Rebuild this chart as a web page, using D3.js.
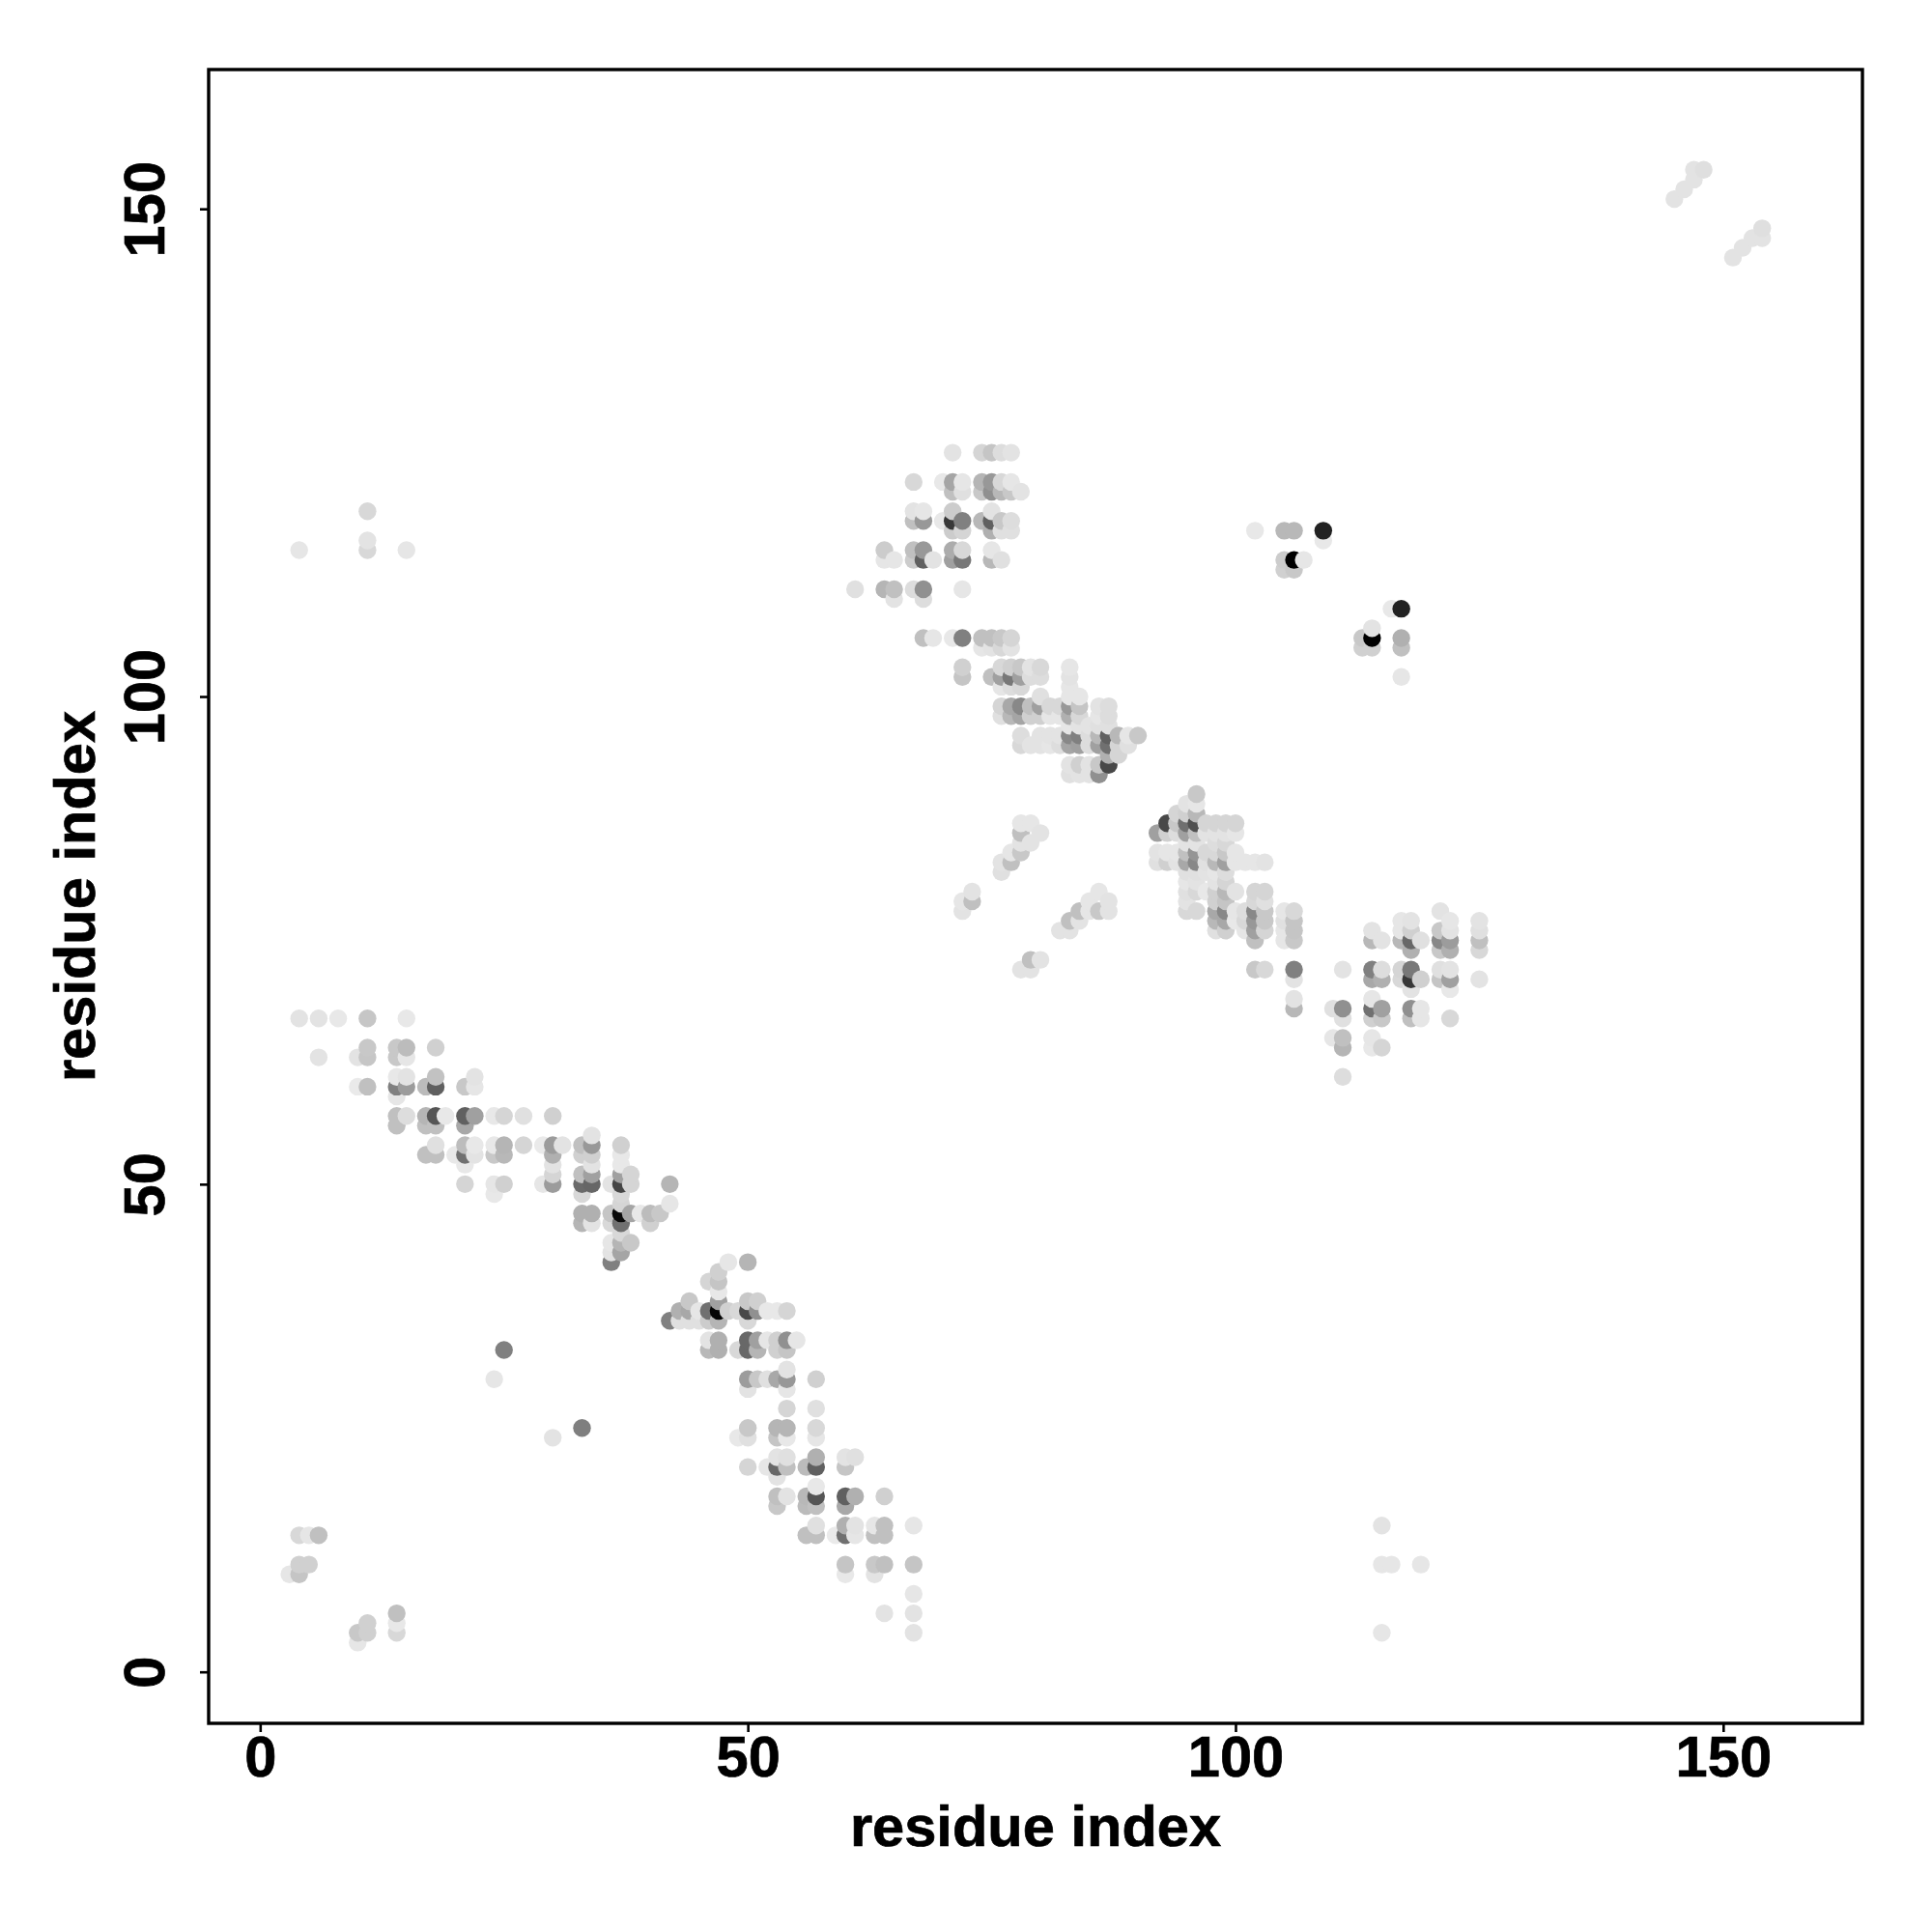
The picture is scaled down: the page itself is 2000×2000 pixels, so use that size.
<!DOCTYPE html>
<html><head><meta charset="utf-8">
<script src="https://cdn.jsdelivr.net/npm/d3@7/dist/d3.min.js"></script>
<style>html,body{margin:0;padding:0;background:#fff}</style></head>
<body><svg id="c" width="2000" height="2000"></svg>
<script>
// each row: [residue j, [residue i, tone], [residue i, tone], ...]; tone 0 = darkest, 255 = white
const bottomCorner = [
 [14,[4,0xd8],[5,0xe6],[6,0xc0]],
 [11,[4,0xd0],[5,0xd0]],
 [10,[3,0xe6],[4,0xc5]],
 [6,[14,0xc0]],[5,[11,0xd0],[14,0xe8]],[4,[10,0xc8],[11,0xd0],[14,0xd8]],[3,[10,0xe6]]
];
const lowerBandA = [
 [67,[4,0xe3],[6,0xe3],[8,0xe8],[11,0xc6],[15,0xe8]],
 [64,[11,0xc8],[14,0xc8],[15,0xbc],[18,0xd0]],
 [63,[6,0xe3],[10,0xe3],[11,0xc6],[14,0xc8],[15,0xe6]],
 [61,[14,0xe8],[15,0xe3],[18,0xc2],[22,0xe3]],
 [60,[10,0xea],[11,0xc0],[14,0x80],[15,0x9c],[17,0xbb],[18,0x60],[21,0xc8],[22,0xe6]],
 [59,[14,0xe6]],
 [57,[14,0xc0],[15,0xdd],[17,0xb5],[18,0x55],[19,0xe8],[21,0x60],[22,0xa0],[24,0xe8],[25,0xd5],[27,0xe0],[30,0xd0]],
 [56,[14,0xc0],[17,0xc0],[18,0xc0],[21,0xa8]],
 [55,[34,0xe3]],
 [54,[18,0xe0],[21,0xbc],[22,0xe8],[24,0xe8],[25,0xb5],[27,0xd5],[29,0xea],[30,0x9c],[31,0xe3],[33,0xc0],[34,0x98],[37,0xd0]],
 [53,[17,0xc0],[18,0xc0],[20,0xe8],[21,0x70],[22,0xe3],[24,0xc8],[25,0xb8],[30,0xb0],[33,0xd0],[34,0xd0],[37,0xe8]],
 [52,[21,0xe8],[30,0xe3],[34,0xe3],[37,0xe8]],
 [51,[30,0xd5],[33,0xc0],[34,0xa0],[37,0xa0],[38,0xd5]],
 [50,[21,0xd5],[24,0xe6],[25,0xd0],[29,0xe6],[30,0x9c],[33,0x6a],[34,0x66],[36,0xe3],[37,0x45],[38,0xd5],[42,0xb5]],
 [49,[24,0xe8],[33,0xd8],[37,0xd8]],
 [48,[37,0xd5],[42,0xe6]],
 [47,[33,0xb0],[34,0xb0],[36,0xc5],[37,0x0a],[38,0xa5],[39,0xe8],[40,0xbc],[41,0xc8]],
 [46,[33,0xb5],[34,0xe3],[36,0xd8],[37,0x70],[40,0xd0]],
 [45,[37,0xd8]],
 [44,[36,0xe6],[37,0xb5],[38,0xc8]],
 [43,[36,0xe3],[37,0xa5]],
 [42,[36,0x80]]
];
const lowerBandB = [
 [42,[48,0xe6],[50,0xb5]],
 [41,[47,0xd0]],
 [40,[46,0xd5],[47,0xc5]],
 [39,[47,0xe8]],
 [38,[44,0xc8],[47,0xa0],[50,0xc8],[51,0xd0]],
 [37,[43,0xb0],[44,0xa8],[45,0xe6],[46,0x70],[47,0x05],[48,0xd0],[49,0xd8],[50,0x48],[51,0x90],[52,0xe8],[53,0xe8],[54,0xd5]],
 [36,[42,0x80],[43,0xe0],[44,0xe0],[45,0xe0],[46,0xcc],[47,0xb5],[50,0xd8]],
 [34,[46,0xe3],[47,0xb0],[50,0x68],[51,0xa0],[52,0xe6],[53,0xd0],[54,0x90],[55,0xe6]],
 [33,[46,0xb8],[47,0xb0],[49,0xd8],[50,0x68],[51,0xb5],[53,0xd0],[54,0xc5]],
 [31,[54,0xe3]],
 [30,[50,0x9c],[51,0xc8],[52,0xe0],[53,0xa8],[54,0x98],[57,0xd0]],
 [29,[50,0xe3],[54,0xe6]],
 [27,[54,0xd5],[57,0xe0]],
 [25,[50,0xc8],[53,0xb5],[54,0xb5],[57,0xd8]],
 [24,[49,0xe8],[50,0xe0],[53,0xc5],[54,0xe8],[57,0xe6]],
 [22,[53,0xe3],[54,0xe0],[57,0xb0],[60,0xe3],[61,0xe0]],
 [21,[50,0xd5],[52,0xe6],[53,0x68],[54,0xc0],[56,0xbb],[57,0x60],[60,0xc5]],
 [20,[53,0xe3]],
 [19,[57,0xe8]],
 [18,[53,0xc0],[54,0xe3],[56,0xb8],[57,0x55],[60,0x60],[61,0xb0],[64,0xd0]],
 [17,[53,0xc8],[56,0xbb],[57,0xc0],[60,0xa8]],
 [15,[57,0xe0],[60,0xb0],[61,0xe3],[63,0xe6],[64,0xc0],[67,0xe6]],
 [14,[56,0xc0],[57,0xc0],[59,0xea],[60,0x70],[61,0xe6],[63,0xc0],[64,0xc0]],
 [11,[60,0xc5],[63,0xc8],[64,0xc0],[67,0xc5]],
 [10,[60,0xe8],[63,0xe3]],
 [8,[67,0xe6]],
 [6,[64,0xe3],[67,0xe3]],
 [4,[67,0xe3]]
];
const isolated = [
 [33,[25,0x80]],[30,[24,0xe6]],[25,[33,0x7f]],[24,[30,0xe3]],
 [15,[115,0xe3]],[11,[115,0xe6],[116,0xe6],[119,0xe6]],[4,[115,0xe6]],
 [119,[11,0xd8]],[116,[11,0xe3]],[115,[4,0xe6],[11,0xd8],[15,0xe6]],
 [154,[147,0xe3],[148,0xdf]],[153,[147,0xe3]],[152,[146,0xe3]],[151,[145,0xe3]],
 [148,[154,0xdf]],[147,[153,0xe3],[154,0xe3]],[146,[152,0xe3]],[145,[151,0xe3]]
];
const upperBlock = [
 [125,[71,0xe3],[74,0xd5],[75,0xc5],[76,0xdd],[77,0xe3]],
 [122,[67,0xd8],[70,0xe8],[71,0xa5],[72,0xe6],[74,0xb5],[75,0x98],[76,0xd8],[77,0xe6]],
 [121,[71,0xc0],[72,0xe0],[74,0xc8],[75,0x90],[76,0xb8],[77,0xc8],[78,0xe3]],
 [119,[67,0xe3],[68,0xe6],[71,0xcc],[75,0xe3]],
 [118,[67,0xc0],[68,0x98],[70,0xe8],[71,0x38],[72,0x80],[74,0xb8],[75,0x60],[76,0xc8],[77,0xdd]],
 [117,[71,0xcc],[72,0xd5],[75,0xb0],[76,0xe0],[77,0xe0]],
 [115,[64,0xcc],[67,0xc0],[68,0x98],[71,0xac],[72,0xd8],[75,0xe6]],
 [114,[64,0xe6],[65,0xe6],[67,0xcc],[68,0x60],[69,0xe3],[71,0xa0],[72,0x78],[75,0xb8],[76,0xe0]],
 [111,[61,0xe0],[64,0xb5],[65,0xc0],[67,0xdd],[68,0x90],[72,0xe6]],
 [110,[65,0xe3],[68,0xdd]],
 [106,[68,0xc0],[69,0xe6],[71,0xe8],[72,0x80],[74,0xc0],[75,0xc0],[76,0xc8],[77,0xd5]],
 [105,[74,0xe6],[75,0xe3],[76,0xd8],[77,0xe3]]
];
const upperBandA = [
 [103,[72,0xd0],[76,0xd8],[77,0xd0],[78,0xc8],[79,0xe3],[80,0xd8],[83,0xe6]],
 [102,[72,0xc5],[75,0xc0],[76,0xa0],[77,0x78],[78,0xa0],[79,0xdd],[80,0xdd],[83,0xe3]],
 [101,[76,0xe6],[77,0xdd],[78,0xd8],[83,0xe6]],
 [100,[80,0xe0],[83,0xe6],[84,0xe6]],
 [99,[76,0xd5],[77,0xa8],[78,0x88],[79,0xc0],[80,0xa0],[81,0xd8],[82,0xd8],[83,0x98],[84,0xc5],[86,0xe3],[87,0xdd]],
 [98,[76,0xe0],[77,0xb8],[78,0xa5],[79,0xd0],[80,0xd0],[81,0xe6],[82,0xe6],[83,0xb0],[84,0xd8],[86,0xe6],[87,0xdd]],
 [97,[83,0xe6],[84,0xe3],[85,0xe3],[86,0xe0],[87,0xe0]],
 [96,[78,0xdd],[80,0xe3],[81,0xe3],[82,0xe3],[83,0x88],[84,0x80],[85,0xdd],[86,0xb8],[87,0x60],[88,0xb8],[89,0xe6],[90,0xc8]],
 [95,[78,0xd8],[79,0xe3],[80,0xe3],[81,0xe6],[82,0xdd],[83,0xa5],[84,0xa0],[85,0xdd],[86,0xa0],[87,0x70],[88,0xd5],[89,0xe0]],
 [94,[87,0xb0],[88,0xd5]],
 [93,[83,0xe3],[84,0xd0],[85,0xe3],[86,0xc8],[87,0x48]],
 [92,[83,0xe0],[84,0xe3],[85,0xe3],[86,0x90]]
];
const upperBandB = [
 [90,[96,0xc8]],
 [89,[95,0xe3],[96,0xe6]],
 [88,[94,0xd5],[95,0xd0],[96,0xb8]],
 [87,[93,0x48],[94,0xc8],[95,0x70],[96,0x50],[97,0xd5],[98,0xd5],[99,0xd5],[100,0xd5]],
 [86,[92,0xa0],[93,0xd0],[94,0xdd],[95,0xa0],[96,0xc0],[97,0xe3],[98,0xe3],[99,0xe3],[100,0xe6]],
 [85,[95,0xe3],[96,0xe3],[98,0xdd],[99,0xd8]],
 [84,[92,0xe3],[93,0xe6],[94,0xe6],[95,0xc0],[96,0x95],[97,0xd8],[98,0xd8],[99,0xc8],[100,0xe6]],
 [83,[92,0xe0],[93,0xd0],[94,0xe3],[95,0xa8],[96,0x88],[97,0xe0],[98,0xb8],[99,0xa0],[100,0xe6],[101,0xe6],[102,0xe6],[103,0xe3]],
 [82,[95,0xe0],[96,0xe0],[97,0xe3],[98,0xe6],[99,0xdd]],
 [81,[95,0xe6],[96,0xe3],[98,0xe3],[99,0xd5]],
 [80,[95,0xe0],[96,0xd8],[97,0xe8],[98,0xd0],[99,0xb8],[100,0xe3],[102,0xd5],[103,0xd5]],
 [79,[95,0xe3],[98,0xd0],[99,0xc5],[102,0xd8],[103,0xe0]],
 [78,[95,0xd8],[96,0xd8],[98,0xa8],[99,0x88],[100,0xe6],[101,0xdd],[102,0x88],[103,0xc8],[105,0xe6],[106,0xd8]],
 [77,[98,0xb8],[99,0xa8],[100,0xe8],[101,0xd8],[102,0x98],[103,0xc8],[105,0xe0],[106,0xc5]],
 [76,[98,0xe0],[99,0xd0],[101,0xe6],[102,0xa0],[103,0xd5],[105,0xe6],[106,0xc5]],
 [75,[102,0xc0],[105,0xe6],[106,0xc8]],
 [72,[102,0xc8],[103,0xd8],[106,0x80]],
 [71,[106,0xe3]],
 [69,[106,0xe3]],
 [68,[106,0xb8]]
];
const middleStreaks = [
 [87,[78,0xe6],[79,0xe6]],[86,[78,0xc0],[80,0xe3]],[85,[78,0xe3],[79,0xe3]],[84,[77,0xe6],[78,0xc8]],[83,[76,0xe3],[77,0xc0]],[82,[76,0xe0]],
 [80,[73,0xe3],[86,0xe6]],[79,[72,0xe6],[73,0xc0],[85,0xe6],[87,0xe3]],[78,[72,0xe3],[84,0xc0],[85,0xe6],[86,0xc8],[87,0xe3]],
 [77,[83,0xc0],[84,0xe3]],[76,[82,0xe3],[83,0xe3]],
 [73,[79,0xc0],[80,0xe3]],[72,[78,0xe3],[79,0xe3]]
];
const rightBlock = [
 [78,[121,0xe3]],
 [77,[117,0xe6],[118,0xe3],[122,0xe6],[125,0xe3]],
 [76,[114,0xe3],[117,0xe6],[118,0xd0],[121,0xc8],[122,0xe3],[125,0xe0]],
 [75,[114,0xb8],[115,0xe3],[117,0xb8],[118,0x68],[119,0xe0],[121,0x88],[122,0x9c],[125,0xc0]],
 [74,[118,0xb0],[121,0xc8],[122,0xb0],[125,0xd8]],
 [72,[111,0xe3],[114,0x80],[115,0xdd],[117,0xd5],[118,0x78],[121,0xe0],[122,0xe3]],
 [71,[114,0xa8],[115,0xb0],[117,0xd8],[118,0x38],[119,0xd0],[121,0xc5],[122,0xa0],[125,0xe3]],
 [70,[118,0xe3],[122,0xe8]],
 [69,[114,0xe6]],
 [68,[110,0xe0],[111,0x90],[114,0x70],[115,0xa0],[118,0x90],[119,0xe6]],
 [67,[111,0xe0],[114,0xd0],[115,0xc8],[118,0xc0],[119,0xe6],[122,0xd8]],
 [65,[110,0xe6],[111,0xc0],[114,0xe6]],
 [64,[111,0xb5],[114,0xe8],[115,0xd5]],
 [61,[111,0xdd]]
];
const upperRight = [
 [117,[102,0xe8],[105,0xb8],[106,0xb8],[109,0x22]],
 [116,[109,0xe8]],
 [114,[105,0xcc],[106,0x00],[107,0xe6]],
 [113,[105,0xd0],[106,0xc8]],
 [109,[116,0xe8],[117,0x22]],
 [107,[114,0xe3]],
 [106,[113,0xc8],[114,0x00],[117,0xb0]],
 [105,[113,0xd0],[114,0xd0],[117,0xc0]],
 [102,[117,0xe6]]
];
const tickValues = [0, 50, 100, 150];
const axisLabel = "residue index";

const box = {left:216, right:1928, top:72, bottom:1784};
const domain = [-5.28, 164.28];
const x = d3.scaleLinear().domain(domain).range([box.left, box.right]);
const y = d3.scaleLinear().domain(domain).range([box.bottom, box.top]);
const tone = d3.scaleLinear().domain([0,255]).range(["#000","#fff"]);

const rows = [bottomCorner,lowerBandA,lowerBandB,isolated,upperBlock,upperBandA,upperBandB,middleStreaks,rightBlock,upperRight].flat();
const points = rows.flatMap(([j,...cells]) => cells.map(([i,t]) => ({i,j,t})));
points.sort((a,b) => d3.ascending(a.i,b.i) || d3.ascending(a.j,b.j));

const svg = d3.select("#c");
svg.append("rect").attr("width",2000).attr("height",2000).attr("fill","#fff");
svg.append("g").selectAll("circle").data(points).join("circle")
  .attr("cx",d=>x(d.i)).attr("cy",d=>y(d.j)).attr("r",9.2).attr("fill",d=>tone(d.t));

const font = "'Liberation Sans', Arial, sans-serif";
const fontSize = 59.6, weightStroke = 0.7;
const ax = d3.axisBottom(x).tickValues(tickValues).tickFormat(d3.format("d")).tickSize(9).tickPadding(0);
const ay = d3.axisLeft(y).tickValues(tickValues).tickFormat(d3.format("d")).tickSize(9).tickPadding(0);
const gx = svg.append("g").attr("transform",`translate(0,${box.bottom})`).call(ax);
const gy = svg.append("g").attr("transform",`translate(${box.left},0)`).call(ay);
[gx,gy].forEach(g=>{
  g.select(".domain").remove();
  g.selectAll("line").attr("stroke","#000").attr("stroke-width",2.6);
  g.selectAll("text").attr("font-family",font).attr("font-weight","bold").attr("font-size",fontSize)
    .attr("fill","#000").attr("stroke","#000").attr("stroke-width",weightStroke);
});
gx.selectAll("text").attr("dy",null).attr("y",55).attr("text-anchor","middle");
gy.selectAll("text").attr("dy",null).attr("x",null)
  .attr("transform","translate(-46,0) rotate(-90)").attr("text-anchor","middle").attr("y",0);

svg.append("rect").attr("x",box.left).attr("y",box.top).attr("width",box.right-box.left).attr("height",box.bottom-box.top)
  .attr("fill","none").attr("stroke","#000").attr("stroke-width",3.4);

svg.append("text").attr("x",(box.left+box.right)/2).attr("y",1911).attr("text-anchor","middle")
  .attr("font-family",font).attr("font-weight","bold").attr("font-size",fontSize)
  .attr("stroke","#000").attr("stroke-width",weightStroke).text(axisLabel);
svg.append("text").attr("transform",`translate(98,${(box.top+box.bottom)/2}) rotate(-90)`).attr("text-anchor","middle")
  .attr("font-family",font).attr("font-weight","bold").attr("font-size",fontSize)
  .attr("stroke","#000").attr("stroke-width",weightStroke).text(axisLabel);
</script></body></html>
